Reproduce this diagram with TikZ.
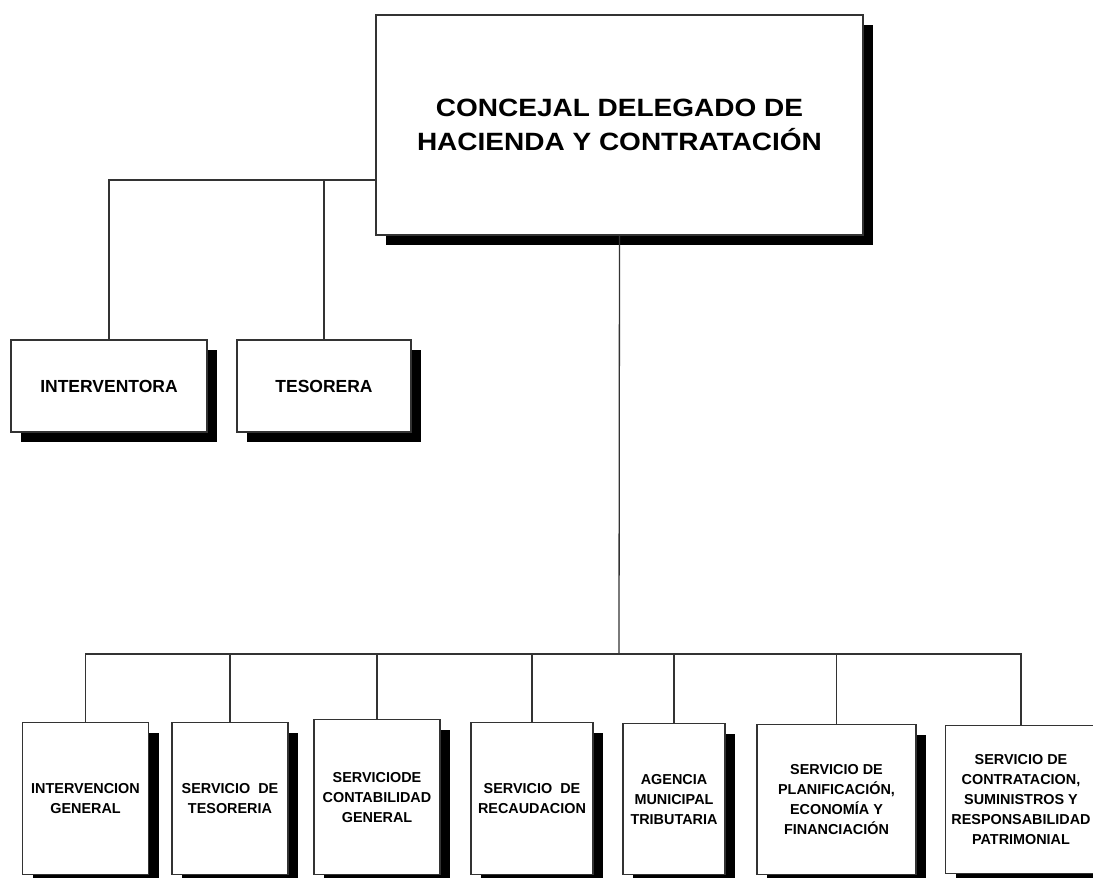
\documentclass[tikz,border=0pt]{standalone}
\usepackage{fontspec}
\setmainfont{Liberation Sans}
\newfontfamily\headfont{Liberation Sans}[FakeStretch=1.12]
\usetikzlibrary{shadows}

\tikzset{
	box/.style = {draw=black!80, line width=1.3pt, fill=white, rectangle,
		inner sep=2pt, align=center, font=\bfseries,
		drop shadow={shadow xshift=10pt, shadow yshift=-10pt, opacity=1, fill=black}},
	link/.style = {draw=black!80, line width=1.3pt}
}

\begin{document}
\begin{tikzpicture}[x=1pt, y=-1pt]
		\useasboundingbox (0,0) rectangle (1093,878);

		% concejal
		\node[box, minimum width=487pt, minimum height=220pt,
			font=\headfont\bfseries\fontsize{25}{33.4}\selectfont]
			(jefe) at (619.5,125) {CONCEJAL DELEGADO DE\\HACIENDA Y CONTRATACIÓN};

		% interventora y tesorera
		\node[box, minimum width=196pt, minimum height=92pt,
			font=\bfseries\fontsize{17.5}{20}\selectfont]
			(interv) at (109,386) {INTERVENTORA};
		\node[box, minimum width=174pt, minimum height=92pt,
			font=\bfseries\fontsize{17.5}{20}\selectfont]
			(teso) at (324,386) {TESORERA};

		\draw[link] ([yshift=-55pt]jefe.west) -| (interv.north);
		\draw[link] ([yshift=-55pt]jefe.west) -| (teso.north);

		% servicios
		\coordinate (bus) at (619,654);
		\draw[link] (jefe.south) -- (bus);

		\foreach \nm/\cx/\bw/\tp/\bh/\txt in {
			sig/85.5/126/722/152/{INTERVENCION\\GENERAL},
			stes/230/116/722/152/{SERVICIO~~DE\\TESORERIA},
			scon/377/126/719/155/{SERVICIODE\\CONTABILIDAD\\GENERAL},
			srec/532/122/722/152/{SERVICIO~~DE\\RECAUDACION},
			amt/674/102/723/151/{AGENCIA\\MUNICIPAL\\TRIBUTARIA},
			splan/836.5/159/724/150/{SERVICIO DE\\PLANIFICACIÓN,\\ECONOMÍA Y\\FINANCIACIÓN},
			scont/1021/151/725/148/{SERVICIO DE\\CONTRATACION,\\SUMINISTROS Y\\RESPONSABILIDAD\\PATRIMONIAL}}
		{
			\node[box, anchor=north, minimum width=\bw pt, minimum height=\bh pt,
				font=\bfseries\fontsize{14.4}{20}\selectfont]
				(\nm) at (\cx,\tp) {\txt};
			\draw[link] (bus) -| (\nm.north);
		}
	\end{tikzpicture}
\end{document}
